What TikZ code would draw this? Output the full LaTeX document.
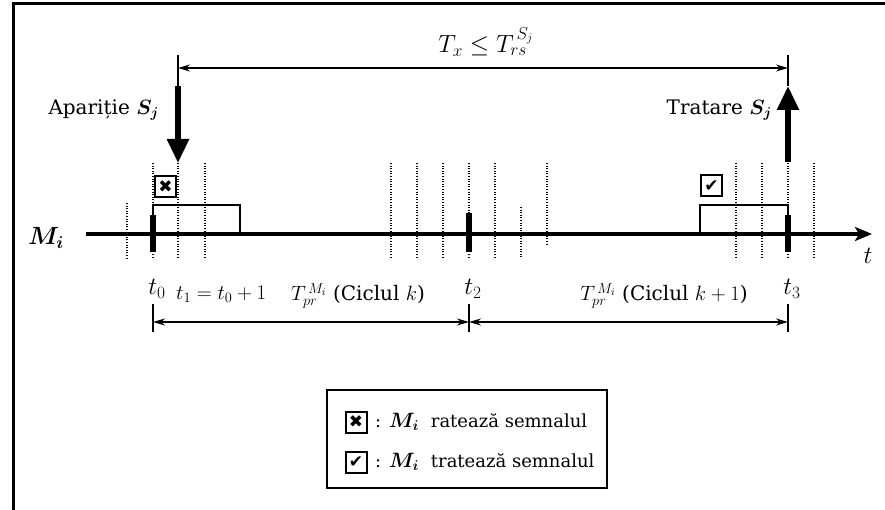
\documentclass[tikz,border=0pt]{standalone}
\usepackage{amsmath}
\usepackage{fontspec}
\setmainfont{DejaVu Serif}
\newfontfamily\symfont{DejaVu Sans}
\usetikzlibrary{arrows.meta}
\begin{document}
\begin{tikzpicture}[x=1pt,y=-1pt,
  frame/.style={line width=3pt},
  axis/.style={line width=3.6pt,-{Stealth[length=17pt,width=14pt,inset=4pt]}},
  tick/.style={line width=5.5pt},
  gridl/.style={dash pattern=on 1pt off 1.6pt, line width=1.1pt},
  slot/.style={line width=2.8pt},
  bigarrow/.style={line width=5.5pt,-{Triangle[length=24pt,width=21pt]}},
  dim/.style={line width=1.6pt,{Stealth[length=12pt,width=7pt]}-{Stealth[length=12pt,width=7pt]}},
  ext/.style={line width=1.2pt},
  cbox/.style={draw,line width=2pt,minimum size=21pt,inner sep=0pt,font=\symfont\fontsize{17}{17}\selectfont},
  lbl/.style={font=\fontsize{20}{24}\selectfont, inner sep=1pt},
  leglbl/.style={font=\fontsize{18}{22}\selectfont, inner sep=1pt},
  mlbl/.style={font=\fontsize{23}{25}\selectfont, inner sep=1pt}
]
\useasboundingbox (0,0) rectangle (885,510);
% frame
\draw[frame] (885,4) -- (13,4) -- (13,510);

% dotted grid lines
\foreach \x in {153,178,205,391,417,443,469,495,736,762,788,814}
  \draw[gridl] (\x,163) -- (\x,258);
\draw[gridl] (127,203) -- (127,258);
\draw[gridl] (521,207) -- (521,258);
\draw[gridl] (547,163) -- (547,245);

% slots
\draw[slot] (153,205) rectangle (240,234);
\draw[slot] (700,205) rectangle (788,234);

% axis
\coordinate (axs) at (86,234);
\coordinate (axe) at (872,234);
\draw[axis] (axs) -- (axe);
\node[lbl, font=\fontsize{27}{28}\selectfont] (tlab) at (868,256) {$t$};
\node[lbl, font=\fontsize{25}{26}\selectfont] (mlab) at (46,238) {$\boldsymbol{M_i}$};

% thick ticks
\draw[tick] (153,215) -- (153,252);
\draw[tick] (469,213) -- (469,252);
\draw[tick] (788,215) -- (788,252);

% check boxes
\node[cbox] (xb) at (165.5,187) {✖};
\node[cbox] (cb) at (711.5,186) {✔};

% signal arrows
\coordinate (aps) at (178,86);
\coordinate (ape) at (178,163);
\draw[bigarrow] (aps) -- (ape);
\coordinate (trs) at (788,162);
\coordinate (tre) at (788,86);
\draw[bigarrow] (trs) -- (tre);
\node[lbl, anchor=east] (apl) at (160,110) {Apariție $\boldsymbol{S_j}$};
\node[lbl, anchor=east] (trl) at (773,110) {Tratare $\boldsymbol{S_j}$};

% top dimension
\coordinate (ta) at (178,68);
\coordinate (tb) at (788,68);
\draw[ext] (178,55) -- (178,86);
\draw[ext] (788,55) -- (788,86);
\draw[dim] (ta) -- (tb);
\node[mlbl] (txl) at (486,42) {$T_x \leq T_{rs}^{\,S_j}$};

% time labels
\node[mlbl] (t0) at (157,289) {$t_0$};
\node[inner sep=1pt, font=\fontsize{21}{24}\selectfont, anchor=west] (t1) at (175,294) {$t_1 = t_0 + 1$};
\node[mlbl] (t2) at (473,289) {$t_2$};
\node[mlbl] (t3) at (792,289) {$t_3$};

% bottom dimensions
\draw[ext] (153,304) -- (153,332);
\draw[ext] (469,304) -- (469,332);
\draw[ext] (788,304) -- (788,332);
\coordinate (da) at (153,322);
\coordinate (db) at (469,322);
\coordinate (dc) at (788,322);
\draw[dim] (da) -- (db);
\draw[dim] (db) -- (dc);
\node[lbl] (c1) at (358,296) {{\fontsize{22}{24}\selectfont$T_{pr}^{\,M_i}$} (Ciclul $k$)};
\node[lbl] (c2) at (664,296) {{\fontsize{22}{24}\selectfont$T_{pr}^{\,M_i}$}\ (Ciclul $k+1$)};

% legend
\node[draw, line width=1.8pt, minimum width=280pt, minimum height=98pt] (leg) at (467,439) {};
\node[cbox] (lx) at (356,422) {✖};
\node[cbox] (lc) at (356,462) {✔};
\node[leglbl, anchor=west] (l1) at (374,422) {: {\fontsize{20}{22}\selectfont$\boldsymbol{M_i}$}\hspace{12pt}ratează semnalul};
\node[leglbl, anchor=west] (l2) at (374,462) {: {\fontsize{20}{22}\selectfont$\boldsymbol{M_i}$}\hspace{12pt}tratează semnalul};
\end{tikzpicture}
\end{document}
